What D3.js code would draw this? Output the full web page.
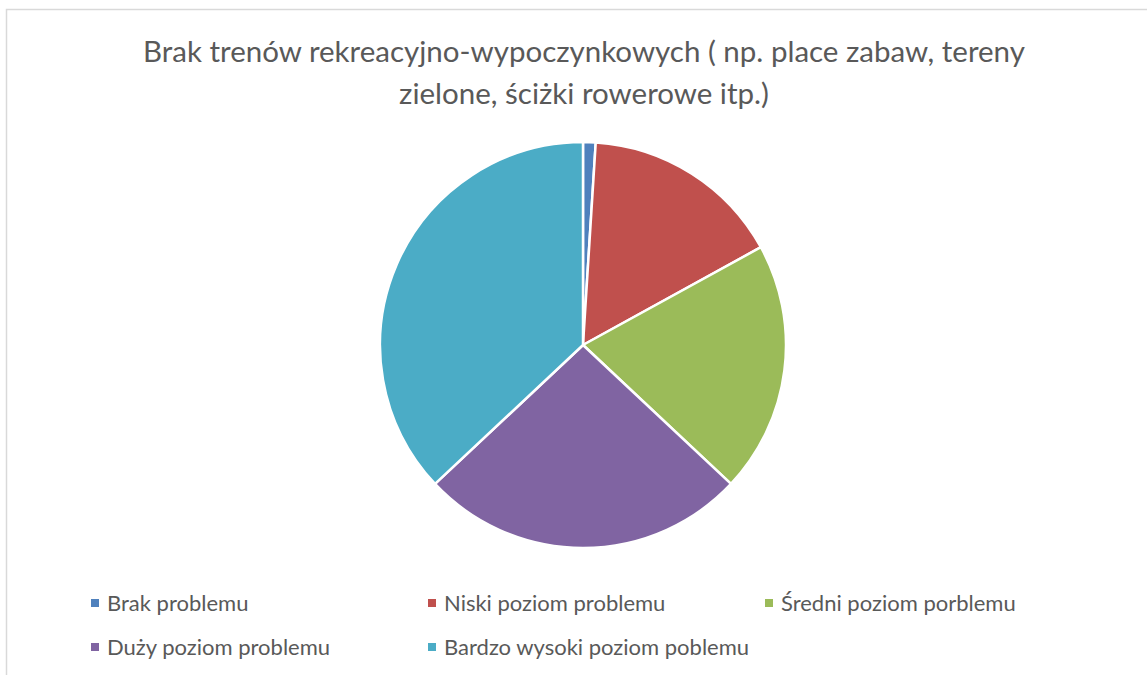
<!DOCTYPE html>
<html>
<head>
<meta charset="utf-8">
<script src="https://cdn.jsdelivr.net/npm/d3@7"></script>
<style>
  html, body { margin: 0; padding: 0; background: #fff; }
  svg { display: block; }
  text { font-family: Lato, "Open Sans", sans-serif; fill: #595959; }
</style>
</head>
<body>
<div id="chart"></div>
<script>
// data
var titleLines = ['Brak trenów rekreacyjno-wypoczynkowych ( np. place zabaw, tereny', 'zielone, ściżki rowerowe itp.)'];
var categories = ['Brak problemu', 'Niski poziom problemu', 'Średni poziom porblemu', 'Duży poziom problemu', 'Bardzo wysoki poziom poblemu'];
var values = [1, 16, 20, 26, 37];
var colors = ['#4F81BD', '#C0504D', '#9BBB59', '#8064A2', '#4BACC6'];

var attrs = {
  svgWidth: 1147,
  svgHeight: 675,
  cx: 583,
  cy: 345,
  radius: 203
};

var svg = d3.select('#chart').append('svg')
  .attr('width', attrs.svgWidth)
  .attr('height', attrs.svgHeight);

// chart border (runs off the right/bottom edge)
svg.append('rect')
  .attr('x', 6.5).attr('y', 9.5)
  .attr('width', 1200).attr('height', 700)
  .attr('fill', '#fff')
  .attr('stroke', '#d9d9d9')
  .attr('stroke-width', 1.5);

// title
svg.append('g').selectAll('text')
  .data(titleLines)
  .enter().append('text')
  .attr('x', 584)
  .attr('y', function (d, i) { return 62 + i * 42; })
  .attr('text-anchor', 'middle')
  .style('font-size', '29.5px')
  .text(function (d) { return d; });

// pie
var pie = d3.pie().sort(null).value(function (d) { return d; });
var arc = d3.arc().innerRadius(0).outerRadius(attrs.radius);

var g = svg.append('g')
  .attr('transform', 'translate(' + attrs.cx + ',' + attrs.cy + ')');

g.selectAll('path')
  .data(pie(values))
  .enter().append('path')
  .attr('d', arc)
  .attr('fill', function (d, i) { return colors[i]; })
  .attr('stroke', '#fff')
  .attr('stroke-width', 2.5)
  .attr('stroke-linejoin', 'round');

// legend
var legendX = d3.scalePoint().domain([0, 1, 2]).range([91, 765]);
var legendY = d3.scalePoint().domain([0, 1]).range([603, 647]);

var items = svg.append('g').selectAll('g')
  .data(categories)
  .enter().append('g')
  .attr('transform', function (d, i) {
    return 'translate(' + legendX(i % 3) + ',' + legendY(Math.floor(i / 3)) + ')';
  });

items.append('rect')
  .attr('x', 0).attr('y', -4)
  .attr('width', 8).attr('height', 8)
  .attr('fill', function (d, i) { return colors[i]; });

items.append('text')
  .attr('x', 16)
  .attr('y', 0)
  .attr('dy', '0.35em')
  .style('font-size', '22px')
  .text(function (d) { return d; });
</script>
</body>
</html>
